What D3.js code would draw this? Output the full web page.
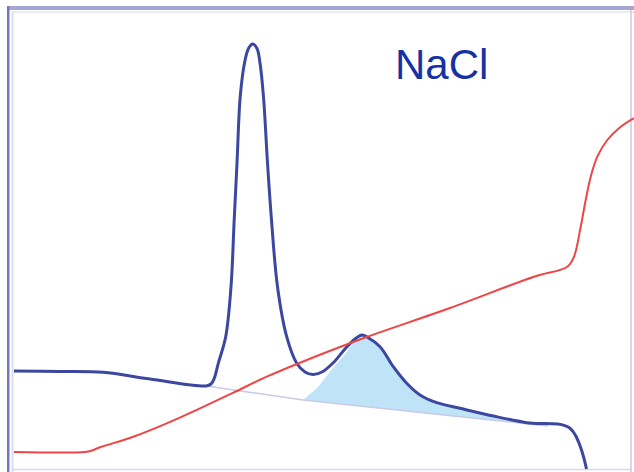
<!DOCTYPE html>
<html>
<head>
<meta charset="utf-8">
<script src="https://cdn.jsdelivr.net/npm/d3@7"></script>
<style>
  body { margin: 0; background: #fff; }
</style>
</head>
<body>
<div id="my_dataviz"></div>
<script>
// elution volume (x) and signal (y)
var uvX = [0, 4.6, 8.9, 13.6, 19.2, 19.7, 20.0, 20.43, 21.17, 21.7, 22.02, 22.3, 22.62, 23.05, 23.45, 23.87,
           24.3, 24.6, 24.95, 25.35, 25.75, 26.35, 27.27, 28.27, 29.1, 29.9, 30.8, 31.9, 33.1, 34.1, 34.8,
           35.3, 36.6, 37.93, 39.27, 40.6, 42.27, 44.6, 47.93, 51.27, 55.6, 57.25];
var uvY = [9.9, 9.85, 9.77, 9.1, 8.4, 8.6, 9.1, 10.67, 13.33, 18.33, 25, 30.7, 37.3, 40.7, 42.15, 42.6,
           42.15, 40.7, 37.3, 30.7, 25, 18.33, 13.33, 10.67, 9.8, 9.55, 9.8, 10.7, 12.1, 13.1, 13.5,
           13.3, 12.33, 10.33, 8.67, 7.5, 6.73, 6.17, 5.4, 4.73, 4.17, 0.1];

var condX = [0, 7.1, 7.8, 8.6, 11.93, 15.27, 18.6, 21.93, 25.27, 28.6, 35, 43.6, 52, 55.33, 56, 56.67, 57.17,
             57.67, 58.33, 59.33, 60.67, 62];
var condY = [1.8, 1.8, 1.95, 2.27, 3.33, 4.67, 6.17, 7.73, 9.33, 10.73, 13.2, 16.2, 19.33, 20.33, 21.33, 24.33, 27,
             29.33, 31.33, 33, 34.33, 35.2];

var baseX = [19.3, 28.9, 53.4];
var baseY = [8.4, 7.0, 4.4];

// shaded second peak (upper edge)
var peakX = [28.9, 29.6, 30.3, 31.1, 31.9, 32.6, 33.3, 33.9, 34.3, 34.8, 35.3, 36.6, 37.93, 39.27, 40.6,
             42.27, 44.6, 47.93, 51.27, 53.4];
var peakY = [7.0, 7.6, 8.2, 9.2, 10.2, 11.0, 11.83, 12.7, 13.1, 13.5, 13.3, 12.33, 10.33, 8.67, 7.5,
             6.73, 6.17, 5.4, 4.73, 4.4];

var label = "NaCl";

var width = 634, height = 472;

var svg = d3.select("#my_dataviz")
  .append("svg")
    .attr("width", width)
    .attr("height", height);

var x = d3.scaleLinear().domain([0, 62]).range([14, 634]);
var y = d3.scaleLinear().domain([0, 46]).range([470, 10]);

// frame
svg.append("rect").attr("x", 7).attr("y", 6).attr("width", 627).attr("height", 4).attr("fill", "#a6a6d5");
svg.append("rect").attr("x", 7).attr("y", 6).attr("width", 2.5).attr("height", 466).attr("fill", "#7676bd");
svg.append("line").attr("x1", 12.5).attr("x2", 12.5).attr("y1", 11).attr("y2", 472)
  .attr("stroke", "#dcdcf1").attr("stroke-width", 2);
svg.append("line").attr("x1", 12).attr("x2", 634).attr("y1", 12).attr("y2", 12)
  .attr("stroke", "#e6e6f5").attr("stroke-width", 1.5);
svg.append("line").attr("x1", 631).attr("x2", 631).attr("y1", 10).attr("y2", 472)
  .attr("stroke", "#d6d6ed").attr("stroke-width", 2);
svg.append("line").attr("x1", 12).attr("x2", 631).attr("y1", 469.5).attr("y2", 469.5)
  .attr("stroke", "#d6d6ed").attr("stroke-width", 1.5);

// shaded area between peak and baseline
var baseAt = d3.scaleLinear().domain(baseX).range(baseY);
var peak = peakX.map(function(d, i) { return {x: d, y: peakY[i]}; });
svg.append("path")
  .datum(peak)
  .attr("fill", "#bfe4f8")
  .attr("d", d3.area()
    .curve(d3.curveCatmullRom.alpha(0.5))
    .x(function(d) { return x(d.x); })
    .y0(function(d) { return y(baseAt(d.x)); })
    .y1(function(d) { return y(d.y); }));

// baseline
svg.append("path")
  .datum(baseX.map(function(d, i) { return {x: d, y: baseY[i]}; }))
  .attr("fill", "none")
  .attr("stroke", "#c9c9e9")
  .attr("stroke-width", 1.5)
  .attr("d", d3.line()
    .x(function(d) { return x(d.x); })
    .y(function(d) { return y(d.y); }));

// UV trace
svg.append("path")
  .datum(uvX.map(function(d, i) { return {x: d, y: uvY[i]}; }))
  .attr("fill", "none")
  .attr("stroke", "#3c479f")
  .attr("stroke-width", 3)
  .attr("stroke-linejoin", "round")
  .attr("d", d3.line()
    .curve(d3.curveCatmullRom.alpha(0.5))
    .x(function(d) { return x(d.x); })
    .y(function(d) { return y(d.y); }));

// conductivity trace
svg.append("path")
  .datum(condX.map(function(d, i) { return {x: d, y: condY[i]}; }))
  .attr("fill", "none")
  .attr("stroke", "#f04545")
  .attr("stroke-width", 2)
  .attr("d", d3.line()
    .curve(d3.curveCatmullRom.alpha(0.5))
    .x(function(d) { return x(d.x); })
    .y(function(d) { return y(d.y); }));

svg.append("text")
  .attr("x", 395)
  .attr("y", 79)
  .style("font-family", "'Liberation Sans', Arial, sans-serif")
  .style("font-size", "42px")
  .attr("fill", "#1432a3")
  .text(label);
</script>
</body>
</html>
